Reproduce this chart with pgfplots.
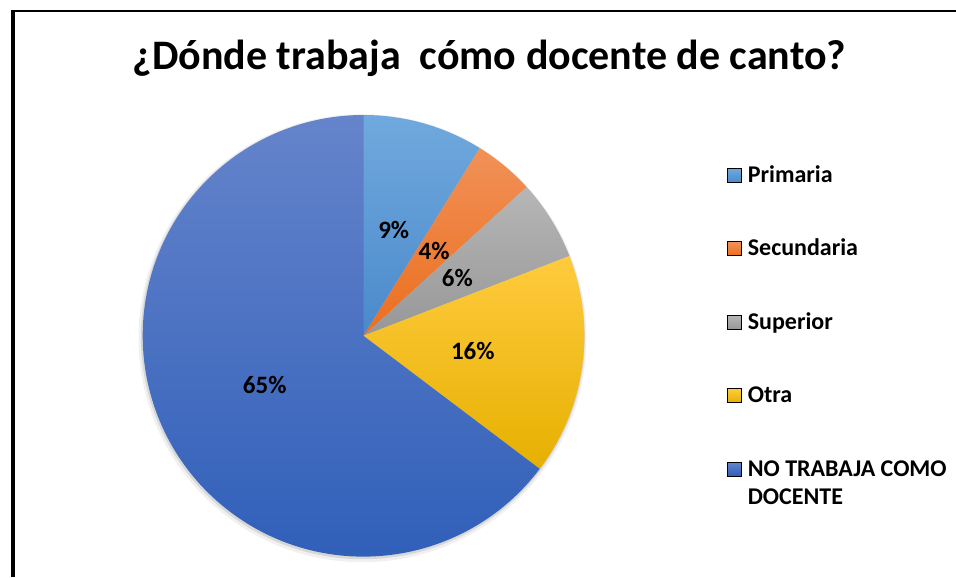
\documentclass[border=0pt]{standalone}
\usepackage{pgfplots}
\pgfplotsset{compat=1.18}
\usepackage{pgfplotstable}
\usepackage{fontspec}
\setmainfont{Carlito}

\definecolor{primT}{HTML}{70A9DD}
\definecolor{primB}{HTML}{4A89CB}
\definecolor{secT}{HTML}{F19158}
\definecolor{secB}{HTML}{EB6E1E}
\definecolor{supT}{HTML}{B6B6B6}
\definecolor{supB}{HTML}{979797}
\definecolor{otrT}{HTML}{FFCB3E}
\definecolor{otrB}{HTML}{E6B000}
\definecolor{noT}{HTML}{6584CB}
\definecolor{noB}{HTML}{2D5DB8}

% counts per category (clockwise from 12 o'clock)
\pgfplotstableread{
idx value
0 6
1 3
2 4
3 11
4 44
}\piedata

\pgfplotsset{sqleg/.style={legend image code/.code={\shade[##1] (0pt,0pt) rectangle (7pt,7pt);}}}

\newcommand\pieslice[4]{%
  \shade[top color=#3,bottom color=#4] (axis cs:0,0) -- (axis cs:{cos(#1)},{sin(#1)})
    arc[start angle=#1,end angle=#2,radius=110.4pt] -- cycle;}

\begin{document}
\begin{tikzpicture}
\pgfplotstablegetelem{0}{value}\of\piedata \edef\vA{\pgfplotsretval}
\pgfplotstablegetelem{1}{value}\of\piedata \edef\vB{\pgfplotsretval}
\pgfplotstablegetelem{2}{value}\of\piedata \edef\vC{\pgfplotsretval}
\pgfplotstablegetelem{3}{value}\of\piedata \edef\vD{\pgfplotsretval}
\pgfplotstablegetelem{4}{value}\of\piedata \edef\vE{\pgfplotsretval}
\pgfmathsetmacro\tot{\vA+\vB+\vC+\vD+\vE}
\pgfmathsetmacro\aA{90}
\pgfmathsetmacro\aB{\aA-360*\vA/\tot}
\pgfmathsetmacro\aC{\aB-360*\vB/\tot}
\pgfmathsetmacro\aD{\aC-360*\vC/\tot}
\pgfmathsetmacro\aE{\aD-360*\vD/\tot}
\pgfmathsetmacro\aF{\aE-360*\vE/\tot}
\pgfmathsetmacro\mA{(\aA+\aB)/2}
\pgfmathsetmacro\mB{(\aB+\aC)/2}
\pgfmathsetmacro\mC{(\aC+\aD)/2}
\pgfmathsetmacro\mD{(\aD+\aE)/2}
\pgfmathsetmacro\mE{(\aE+\aF)/2}
\pgfmathtruncatemacro\pA{round(100*\vA/\tot)}
\pgfmathtruncatemacro\pB{round(100*\vB/\tot)}
\pgfmathtruncatemacro\pC{round(100*\vC/\tot)}
\pgfmathtruncatemacro\pD{round(100*\vD/\tot)}
\pgfmathtruncatemacro\pE{round(100*\vE/\tot)}

\useasboundingbox (0,0) rectangle (478pt,-288.5pt);
\fill[white] (0,0) rectangle (478pt,-288.5pt);
\draw[line width=2pt] (6.35pt,-288.5pt) -- (6.35pt,-5.6pt);
\draw[line width=1.3pt] (5.35pt,-5.6pt) -- (478pt,-5.6pt);
\node[font=\bfseries\fontsize{21}{25}\selectfont, anchor=base, inner sep=0pt] at (244.7pt,-35pt) {¿Dónde trabaja\ \ cómo docente de canto?};

\begin{axis}[at={(181.75pt,-167.9pt)}, anchor=center,
  x=110.4pt, y=110.4pt, xmin=-1, xmax=1, ymin=-1, ymax=1,
  hide axis, clip=false,
  legend style={at={(axis description cs:1.3232,0.886)}, anchor=north west,
    draw=none, fill=none, inner sep=0pt, outer sep=0pt,
    row sep=25.25pt, column sep=3pt,
    font=\bfseries\fontsize{12}{14}\selectfont,
    nodes={inner sep=0pt, text height=8.5pt, text depth=3pt},
    cells={anchor=base west}},
  ]
\fill[black, opacity=0.06] (axis cs:0,0) ++(-0.5pt,-1.2pt) circle[radius=112pt];
\fill[black, opacity=0.10] (axis cs:0,0) ++(-0.3pt,-0.7pt) circle[radius=111pt];
\pieslice{\aA}{\aB}{primT}{primB}
\pieslice{\aB}{\aC}{secT}{secB}
\pieslice{\aC}{\aD}{supT}{supB}
\pieslice{\aD}{\aE}{otrT}{otrB}
\pieslice{\aE}{\aF}{noT}{noB}
\begin{scope}[font=\bfseries\fontsize{12.5}{15}\selectfont]
\node at (axis cs:{0.5*cos(\mA)},{0.5*sin(\mA)}) {\pA\%};
\node at (axis cs:{0.5*cos(\mB)},{0.5*sin(\mB)}) {\pB\%};
\node at (axis cs:{0.5*cos(\mC)},{0.5*sin(\mC)}) {\pC\%};
\node at (axis cs:{0.5*cos(\mD)},{0.5*sin(\mD)}) {\pD\%};
\node at (axis cs:{0.5*cos(\mE)},{0.5*sin(\mE)}) {\pE\%};
\end{scope}
\addlegendimage{sqleg, top color=primT, bottom color=primB}
\addlegendentry{Primaria}
\addlegendimage{sqleg, top color=secT, bottom color=secB}
\addlegendentry{Secundaria}
\addlegendimage{sqleg, top color=supT, bottom color=supB}
\addlegendentry{Superior}
\addlegendimage{sqleg, top color=otrT, bottom color=otrB}
\addlegendentry{Otra}
\addlegendimage{sqleg, top color=noT, bottom color=noB}
\addlegendentry{{\begin{tabular}[t]{@{}l@{}}NO TRABAJA COMO\\DOCENTE\end{tabular}}}
\end{axis}
\end{tikzpicture}
\end{document}
